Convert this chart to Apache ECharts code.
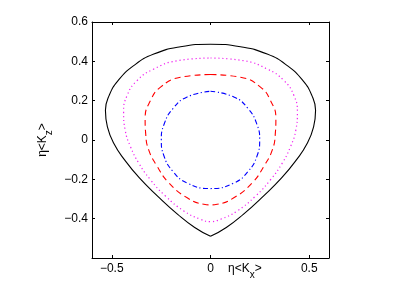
<!DOCTYPE html>
<html>
<head>
<meta charset="utf-8">
<script src="https://cdn.jsdelivr.net/npm/echarts@6/dist/echarts.min.js"></script>
<style>html,body{margin:0;padding:0;background:#fff;}#c{width:407px;height:291px;}</style>
</head>
<body>
<div id="c"></div>
<script>
// Outer solid curve (starts and ends at the bottom cusp)
var solidCurve = [
  [0,-0.49],[0.08,-0.445],[0.166,-0.378],[0.268,-0.285],[0.36,-0.193],[0.435,-0.101],[0.49,-0.017],
  [0.522,0.067],[0.532,0.151],[0.513,0.227],[0.468,0.302],[0.389,0.378],[0.287,0.437],[0.152,0.474],
  [0,0.487],
  [-0.152,0.474],[-0.287,0.437],[-0.389,0.378],[-0.468,0.302],[-0.513,0.227],[-0.532,0.151],[-0.522,0.067],
  [-0.49,-0.017],[-0.435,-0.101],[-0.36,-0.193],[-0.268,-0.285],[-0.166,-0.378],[-0.08,-0.445],[0,-0.49]
];
// Magenta dotted curve
var dottedCurve = [
  [0,0.417],[0.169,0.403],[0.287,0.361],[0.372,0.302],[0.422,0.227],[0.44,0.14],[0.432,0.05],
  [0.405,-0.034],[0.363,-0.118],[0.304,-0.202],[0.228,-0.285],[0.135,-0.361],[0.051,-0.403],[0,-0.415],
  [-0.051,-0.403],[-0.135,-0.361],[-0.228,-0.285],[-0.304,-0.202],[-0.363,-0.118],[-0.405,-0.034],
  [-0.432,0.05],[-0.44,0.14],[-0.422,0.227],[-0.372,0.302],[-0.287,0.361],[-0.169,0.403],[0,0.417]
];
// Red dashed curve
var dashedCurve = [
  [0,0.333],[0.152,0.319],[0.253,0.269],[0.304,0.2],[0.331,0.11],[0.328,0.03],[0.313,-0.05],
  [0.27,-0.134],[0.211,-0.218],[0.118,-0.294],[0.034,-0.327],[0,-0.33],
  [-0.034,-0.327],[-0.118,-0.294],[-0.211,-0.218],[-0.27,-0.134],[-0.313,-0.05],[-0.328,0.03],
  [-0.331,0.11],[-0.304,0.2],[-0.253,0.269],[-0.152,0.319],[0,0.333]
];
// Blue dash-dot curve
var dashDotCurve = [
  [0,0.248],[0.118,0.219],[0.19,0.16],[0.235,0.08],[0.249,0],[0.236,-0.08],[0.19,-0.16],
  [0.118,-0.219],[0,-0.247],
  [-0.118,-0.219],[-0.19,-0.16],[-0.236,-0.08],[-0.249,0],[-0.235,0.08],[-0.19,0.16],
  [-0.118,0.219],[0,0.248]
];
var xTicks = [-0.5, 0, 0.5];
var yTicks = [-0.4, -0.2, 0, 0.2, 0.4, 0.6];

function fmt(v) {
  if (Math.abs(v) < 1e-9) return '0';
  return (v < 0 ? '\u2212' : '') + String(Math.abs(Math.round(v * 10) / 10));
}
var FONT = 'Liberation Sans';
var FS = 12;
var axisLine = { show: true, onZero: false, lineStyle: { color: '#000', width: 1 } };

var chart = echarts.init(document.getElementById('c'), null, { renderer: 'canvas' });
chart.setOption({
  animation: false,
  backgroundColor: '#fff',
  grid: { left: 92, right: 78, top: 22, bottom: 33 },
  xAxis: [
    { type: 'value', min: -0.6, max: 0.6, interval: 0.1, position: 'bottom',
      axisLine: axisLine, splitLine: { show: false },
      axisTick: { show: true, inside: true, length: 3, customValues: xTicks, lineStyle: { color: '#000' } },
      axisLabel: { show: true, customValues: xTicks, formatter: fmt, color: '#000', fontFamily: FONT, fontSize: FS, margin: 5 } },
    { type: 'value', min: -0.6, max: 0.6, interval: 0.1, position: 'top',
      axisLine: axisLine, splitLine: { show: false },
      axisTick: { show: true, inside: true, length: 3, customValues: xTicks, lineStyle: { color: '#000' } },
      axisLabel: { show: false } }
  ],
  yAxis: [
    { type: 'value', min: -0.6, max: 0.6, interval: 0.2, position: 'left',
      axisLine: axisLine, splitLine: { show: false },
      axisTick: { show: true, inside: true, length: 3, customValues: yTicks, lineStyle: { color: '#000' } },
      axisLabel: { show: true, customValues: yTicks, formatter: fmt, color: '#000', fontFamily: FONT, fontSize: FS, margin: 4 } },
    { type: 'value', min: -0.6, max: 0.6, interval: 0.2, position: 'right',
      axisLine: axisLine, splitLine: { show: false },
      axisTick: { show: true, inside: true, length: 3, customValues: yTicks, lineStyle: { color: '#000' } },
      axisLabel: { show: false } }
  ],
  series: [
    { type: 'line', data: solidCurve, showSymbol: false, smooth: 0.5,
      lineStyle: { color: '#000', width: 1.1, type: 'solid' } },
    { type: 'line', data: dottedCurve, showSymbol: false, smooth: 0.5,
      lineStyle: { color: '#f020f0', width: 1.2, type: [1.2, 2.8] } },
    { type: 'line', data: dashedCurve, showSymbol: false, smooth: 0.5,
      lineStyle: { color: '#ff0000', width: 1.1, type: [6, 4] } },
    { type: 'line', data: dashDotCurve, showSymbol: false, smooth: 0.5,
      lineStyle: { color: '#0000ff', width: 1.1, type: [5, 2.5, 1.2, 2.5] } }
  ],
  graphic: [
    { type: 'text', left: 228, top: 263,
      style: { text: '{n|\u03b7<K}{s|x}{n|>}', fill: '#000',
        rich: { n: { fontFamily: FONT, fontSize: FS, verticalAlign: 'top', lineHeight: 14 },
                s: { fontFamily: FONT, fontSize: 10, verticalAlign: 'top', lineHeight: 10, padding: [7, 0, 0, 0] } } } },
    { type: 'text', x: 44, y: 140, rotation: Math.PI / 2,
      style: { text: '{n|\u03b7<K}{s|z}{n|>}', fill: '#000', align: 'center', verticalAlign: 'middle',
        rich: { n: { fontFamily: FONT, fontSize: FS, verticalAlign: 'top', lineHeight: 14 },
                s: { fontFamily: FONT, fontSize: 10, verticalAlign: 'top', lineHeight: 10, padding: [7, 0, 0, 0] } } } }
  ]
});
</script>
</body>
</html>
